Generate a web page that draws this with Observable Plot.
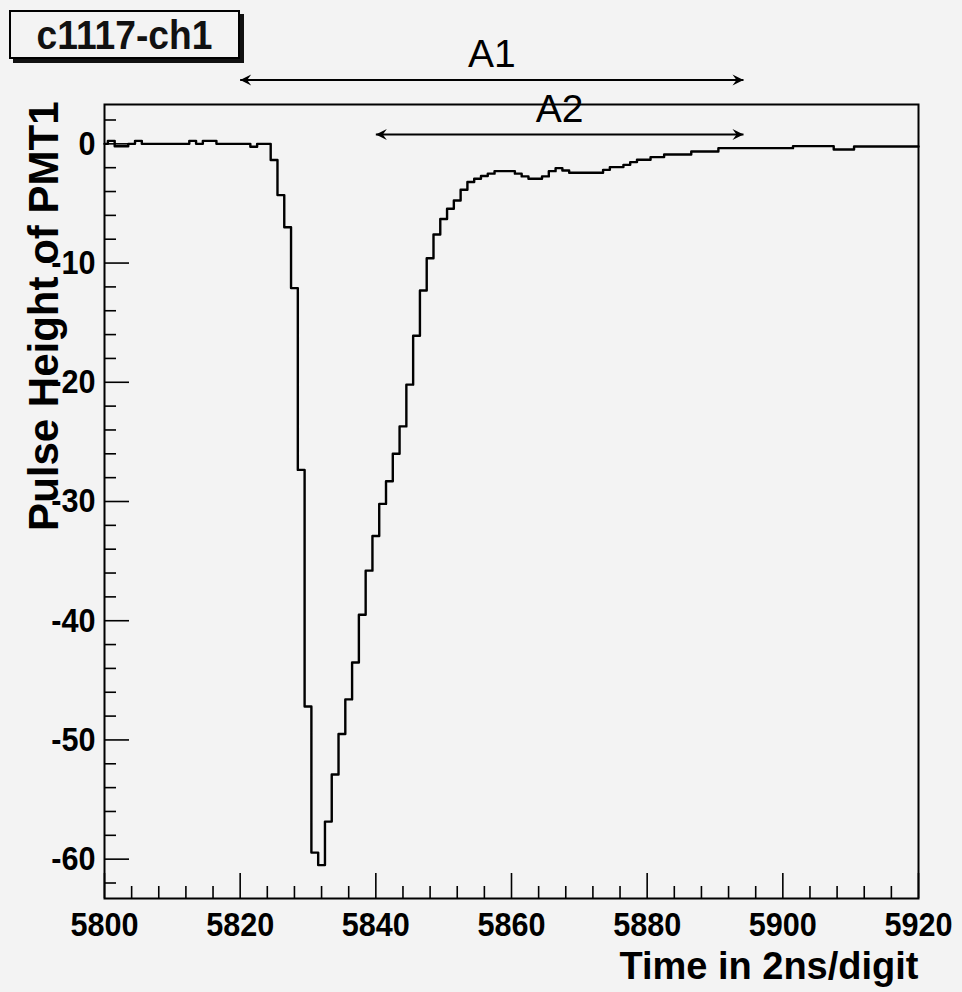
<!DOCTYPE html>
<html><head><meta charset="utf-8">
<script src="https://cdn.jsdelivr.net/npm/d3@7"></script>
<script src="https://cdn.jsdelivr.net/npm/@observablehq/plot@0.6"></script>
<style>
html,body{margin:0;padding:0;background:#f3f3f3;}
#wrap{position:relative;width:962px;height:992px;overflow:hidden;background:#f3f3f3;}
#wrap svg{position:absolute;left:0;top:0;}
#title{position:absolute;left:9px;top:10px;width:227px;height:45px;border:2px solid #000;box-shadow:4px 4px 0 #111;background:#f3f3f3;text-align:center;z-index:2;}
#title span{display:inline-block;font:bold 40px "Liberation Sans",Arial,sans-serif;line-height:46px;color:#111;transform:scaleX(0.93);}
</style></head><body>
<div id="wrap"><div id="title"><span>c1117-ch1</span></div></div>
<script>
// ---- data ----
const time = [5800,5801,5802,5803,5804,5805,5806,5807,5808,5809,5810,5811,5812,5813,5814,5815,5816,5817,5818,5819,
5820,5821,5822,5823,5824,5825,5826,5827,5828,5829,5830,5831,5832,5833,5834,5835,5836,5837,5838,5839,
5840,5841,5842,5843,5844,5845,5846,5847,5848,5849,5850,5851,5852,5853,5854,5855,5856,5857,5858,5859,
5860,5861,5862,5863,5864,5865,5866,5867,5868,5869,5870,5871,5872,5873,5874,5875,5876,5877,5878,5879,
5880,5881,5882,5883,5884,5885,5886,5887,5888,5889,5890,5891,5892,5893,5894,5895,5896,5897,5898,5899,
5900,5901,5902,5903,5904,5905,5906,5907,5908,5909,5910,5911,5912,5913,5914,5915,5916,5917,5918,5919,5920];
const pulse = [0,0.25,-0.2,-0.2,0,0.25,0,0,0,0,0,0,0,0.25,0,0.25,0.25,0,0,0,
0,0,-0.25,0,0,-1.35,-4.3,-7.0,-12.1,-27.35,-47.2,-59.45,-60.5,-56.85,-52.9,-49.5,-46.6,-43.5,-39.5,-35.8,
-32.9,-30.2,-28.3,-26.0,-23.7,-20.2,-16.1,-12.3,-9.6,-7.6,-6.3,-5.45,-4.75,-3.85,-3.2,-2.93,-2.7,-2.5,-2.29,-2.29,
-2.29,-2.5,-2.73,-2.93,-2.93,-2.73,-2.29,-2.04,-2.23,-2.43,-2.43,-2.43,-2.43,-2.43,-2.18,-1.95,-1.95,-1.76,-1.53,-1.34,
-1.34,-1.11,-1.11,-0.89,-0.89,-0.89,-0.89,-0.64,-0.64,-0.64,-0.64,-0.36,-0.36,-0.36,-0.36,-0.36,-0.36,-0.36,-0.36,-0.36,
-0.36,-0.36,-0.19,-0.19,-0.19,-0.19,-0.19,-0.19,-0.47,-0.47,-0.47,-0.22,-0.22,-0.22,-0.22,-0.22,-0.22,-0.22,-0.22,-0.22,-0.22];

const xMajorTicks = [5800,5820,5840,5860,5880,5900,5920];
const xMinorTicks = [5804,5808,5812,5816,5824,5828,5832,5836,5844,5848,5852,5856,5864,5868,5872,5876,5884,5888,5892,5896,5904,5908,5912,5916];
const yMajorTicks = [0,-10,-20,-30,-40,-50,-60];
const yMinorTicks = [2,-2,-4,-6,-8,-12,-14,-16,-18,-22,-24,-26,-28,-32,-34,-36,-38,-42,-44,-46,-48,-52,-54,-56,-58,-62];

const annotLabels = ["A1","A2"];
const annotStart = [5820, 5840];
const annotEnd = [5894.2, 5894.2];
const annotLevel = [5.36, 0.78];

const xLabel = "Time in 2ns/digit";
const yLabel = "Pulse Height of PMT1";

// ---- build tables ----
const data = time.map((t,i)=>({t, v: pulse[i]}));
const annots = annotLabels.map((label,i)=>({label, start: annotStart[i], end: annotEnd[i], level: annotLevel[i]}));
const heads = annots.flatMap(a=>[{x:a.end, y:a.level, rot:0},{x:a.start, y:a.level, rot:180}]);

const W=962, H=992, mL=104, mR=44, mT=104, mB=94;
const innerW = W-mL-mR, innerH = H-mT-mB;
const font = '"Liberation Sans", Arial, Helvetica, sans-serif';

const arrowHead = { draw(ctx){ ctx.moveTo(0,0); ctx.lineTo(-11,-5.5); ctx.lineTo(-7,0); ctx.lineTo(-11,5.5); ctx.closePath(); } };

const chart = Plot.plot({
  width: W, height: H,
  marginLeft: mL, marginRight: mR, marginTop: mT, marginBottom: mB,
  style: {background: "transparent", fontFamily: font, color: "#000", overflow: "visible"},
  x: {domain: [5800, 5920], axis: null},
  y: {domain: [-63.3, 3.3], axis: null},
  marks: [
    Plot.tickX(xMinorTicks, {x: d=>d, insetTop: innerH-12, stroke: "#000", strokeWidth: 1.6}),
    Plot.tickX(xMajorTicks, {x: d=>d, insetTop: innerH-25, stroke: "#000", strokeWidth: 1.6}),
    Plot.tickY(yMinorTicks, {y: d=>d, insetRight: innerW-12, stroke: "#000", strokeWidth: 1.6}),
    Plot.tickY(yMajorTicks, {y: d=>d, insetRight: innerW-25, stroke: "#000", strokeWidth: 1.6}),
    Plot.axisX({ticks: xMajorTicks, tickSize: 0, tickPadding: 13, tickFormat: d=>String(d), fontSize: 34, fontWeight: "bold", label: null, ariaLabel: "squeeze x-axis"}),
    Plot.axisY({ticks: yMajorTicks, tickSize: 0, tickPadding: 9, tickFormat: d=>String(d), fontSize: 34, fontWeight: "bold", label: null, ariaLabel: "squeeze y-axis"}),
    Plot.line(data, {x: "t", y: "v", curve: "step", stroke: "#000", strokeWidth: 2.4}),
    Plot.frame({stroke: "#000", strokeWidth: 2}),
    Plot.link(annots, {x1: "start", x2: "end", y1: "level", y2: "level", stroke: "#000", strokeWidth: 2}),
    Plot.dot(heads, {x: "x", y: "y", rotate: "rot", symbol: arrowHead, fill: "#000", stroke: "none"}),
    Plot.text(annots, {x: d=>(d.start+d.end)/2, y: "level", text: "label", dy: -25, fontSize: 39, fill: "#000"}),
    Plot.text([xLabel], {frameAnchor: "bottom-right", text: d=>d, textAnchor: "end", lineAnchor: "middle", dy: 68, fontSize: 38, fontWeight: "bold", fill: "#000"}),
    Plot.text([yLabel], {frameAnchor: "top-left", text: d=>d, rotate: -90, textAnchor: "end", lineAnchor: "middle", dx: -60, dy: -3, fontSize: 42, fontWeight: "bold", fill: "#000", ariaLabel: "squeeze ylabel"})
  ]
});

// narrow the glyphs horizontally (the reference font is condensed)
d3.select(chart).selectAll('g[aria-label^="squeeze"] text').each(function(){
  const s = 0.9;
  const t = this;
  let ax = t.getAttribute("x");
  const tr = t.getAttribute("transform") || "";
  if (ax == null) {
    const m = /translate\(\s*([-\d.e]+)/.exec(tr);
    ax = m ? m[1] : 0;
  }
  ax = +ax;
  t.setAttribute("transform", `translate(${ax},0) scale(${s},1) translate(${-ax},0) ${tr}`);
});

const wrap = document.getElementById("wrap");
wrap.insertBefore(chart, wrap.firstChild);
</script>
</body></html>
